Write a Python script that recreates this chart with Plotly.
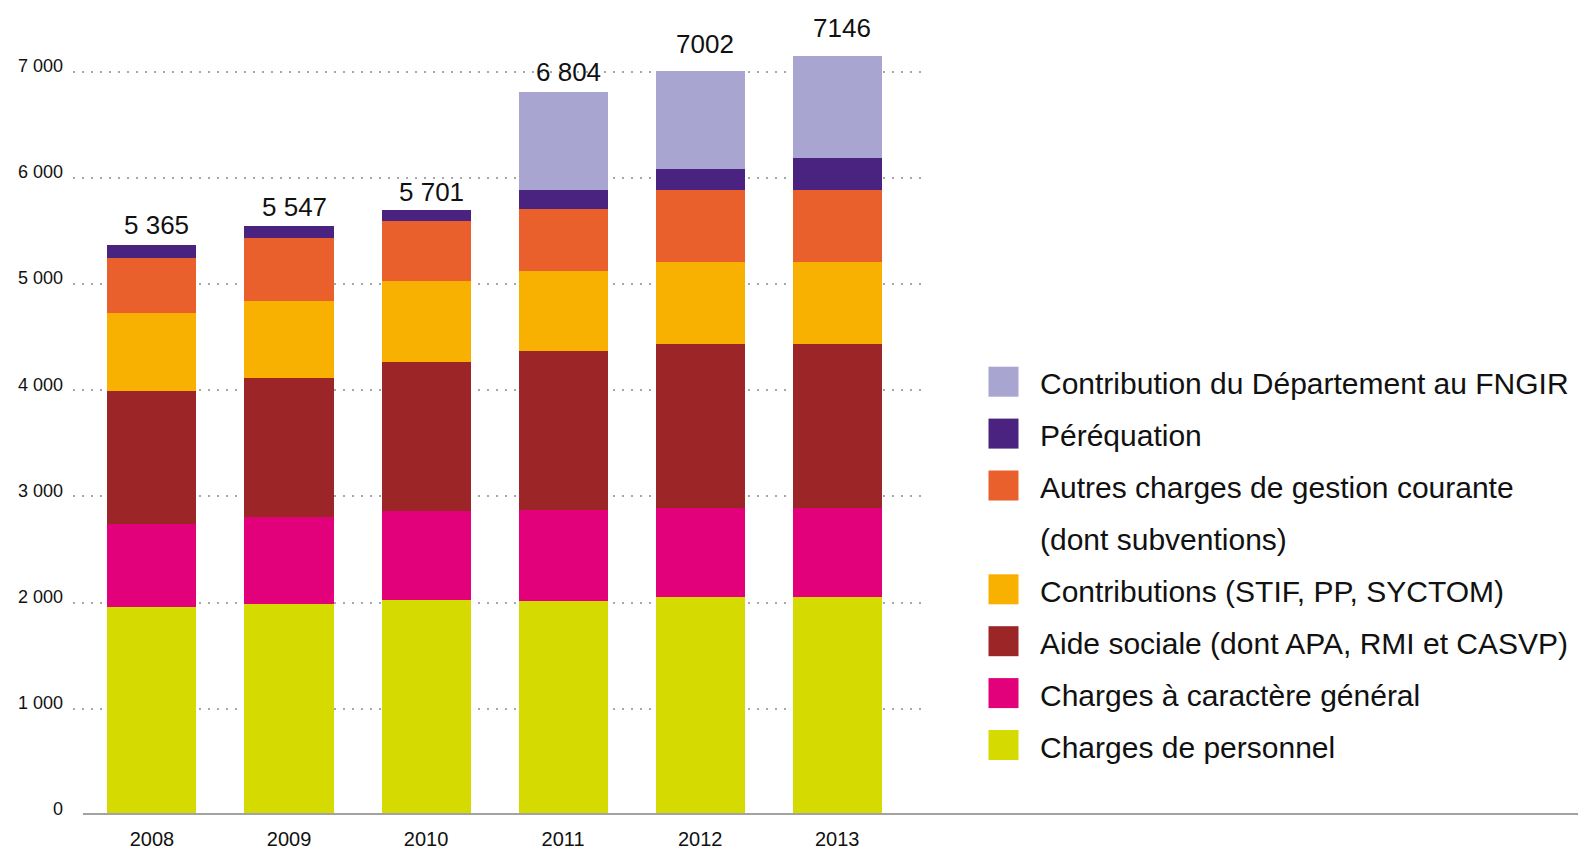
import plotly.graph_objects as go

# ---------------- data ----------------
years = ["2008", "2009", "2010", "2011", "2012", "2013"]

charges_personnel = [1960, 1990, 2024, 2019, 2056, 2056]
charges_generales = [777, 819, 839, 857, 831, 831]
aide_sociale = [1255, 1303, 1400, 1497, 1546, 1546]
contributions = [738, 728, 768, 753, 771, 771]
autres_charges = [518, 590, 565, 581, 678, 678]
perequation = [117, 117, 105, 175, 205, 302]
fngir = [None, None, None, 922, 915, 962]

total_labels = ["5 365", "5 547", "5 701", "6 804", "7002", "7146"]

y_tick_values = [0, 1000, 2000, 3000, 4000, 5000, 6000, 7000]
y_tick_labels = ["0", "1 000", "2 000", "3 000", "4 000", "5 000", "6 000", "7 000"]

series_names = [
    "Charges de personnel",
    "Charges à caractère général",
    "Aide sociale (dont APA, RMI et CASVP)",
    "Contributions (STIF, PP, SYCTOM)",
    "Autres charges de gestion courante<br>(dont subventions)",
    "Péréquation",
    "Contribution du Département au FNGIR",
]
series_values = [charges_personnel, charges_generales, aide_sociale, contributions,
                 autres_charges, perequation, fngir]

# ---------------- styles ----------------
series_colors = ["#D5DB00", "#E3007B", "#9B2527", "#F8B100", "#E9602C", "#4A2380", "#A8A5D0"]
label_yshift = [20, 19, 18, 20, 27, 28]
FONT = "Liberation Sans, Arial, Helvetica, sans-serif"
TXT = "#111111"

W, H = 1578, 851
PL, PR, PT, PB = 73, 924, 10, 815  # plot area in pixels


def paper_x(px):
    return (px - PL) / (PR - PL)


def paper_y(py):
    return (PB - py) / (PB - PT)


fig = go.Figure()
for name, vals, col in zip(series_names, series_values, series_colors):
    fig.add_trace(go.Bar(
        x=years, y=vals, name=name.replace("<br>", " "),
        marker=dict(color=col, line=dict(width=0)),
        showlegend=False, hoverinfo="x+y+name",
    ))

# totals above bars (category index used for position)
totals = [sum(v for v in col if v is not None) for col in zip(*series_values)]
annotations = []
for i, (tot, lab, ys) in enumerate(zip(totals, total_labels, label_yshift)):
    annotations.append(dict(
        x=i, y=tot, xref="x", yref="y", text=lab, showarrow=False,
        yanchor="middle", xanchor="center", yshift=ys, xshift=5,
        font=dict(family=FONT, size=26, color=TXT),
    ))

# manual legend (top to bottom)
shapes = []
legend_rows = [381.7, 433.6, 485.5, 589.3, 641.2, 693.1, 745.0]
row_gap = 51.9
for i, (name, col) in enumerate(zip(reversed(series_names), reversed(series_colors))):
    cy = legend_rows[i]
    shapes.append(dict(
        type="rect", xref="paper", yref="paper",
        x0=paper_x(988.5), x1=paper_x(1018.5),
        y0=paper_y(cy + 15), y1=paper_y(cy - 15),
        fillcolor=col, line=dict(width=0), layer="above",
    ))
    for j, line in enumerate(name.split("<br>")):
        annotations.append(dict(
            x=paper_x(1038), y=paper_y(cy + 2 + j * row_gap),
            xref="paper", yref="paper", text=line, showarrow=False,
            xanchor="left", yanchor="middle",
            font=dict(family=FONT, size=30, color=TXT),
        ))

# baseline
shapes.append(dict(
    type="line", xref="paper", yref="y",
    x0=paper_x(83), x1=paper_x(1578), y0=0, y1=0,
    line=dict(color="#a2a2a2", width=4), layer="above",
))

y_max = (PB - PT) / ((PB - 71.6) / 7000)

fig.update_layout(
    width=W, height=H,
    margin=dict(l=PL, r=W - PR, t=PT, b=H - PB, autoexpand=False),
    barmode="stack", bargap=0.35,
    plot_bgcolor="white", paper_bgcolor="white",
    font=dict(family=FONT, color=TXT),
    showlegend=False,
    annotations=annotations,
    shapes=shapes,
    xaxis=dict(
        type="category", range=[-0.576, 5.633], automargin=False,
        showgrid=False, showline=False, zeroline=False, ticks="",
        tickfont=dict(family=FONT, size=20, color=TXT),
        ticklabelstandoff=10,
    ),
    yaxis=dict(
        range=[0, y_max], automargin=False,
        tickmode="array", tickvals=y_tick_values, ticktext=y_tick_labels,
        showgrid=True, gridcolor="#a8a8a8", gridwidth=2, griddash="2px,7px",
        zeroline=False, showline=False, ticks="",
        tickfont=dict(family=FONT, size=18, color=TXT),
        ticklabelstandoff=9, ticklabelshift=-6,
    ),
)

fig.write_html("out.html")
